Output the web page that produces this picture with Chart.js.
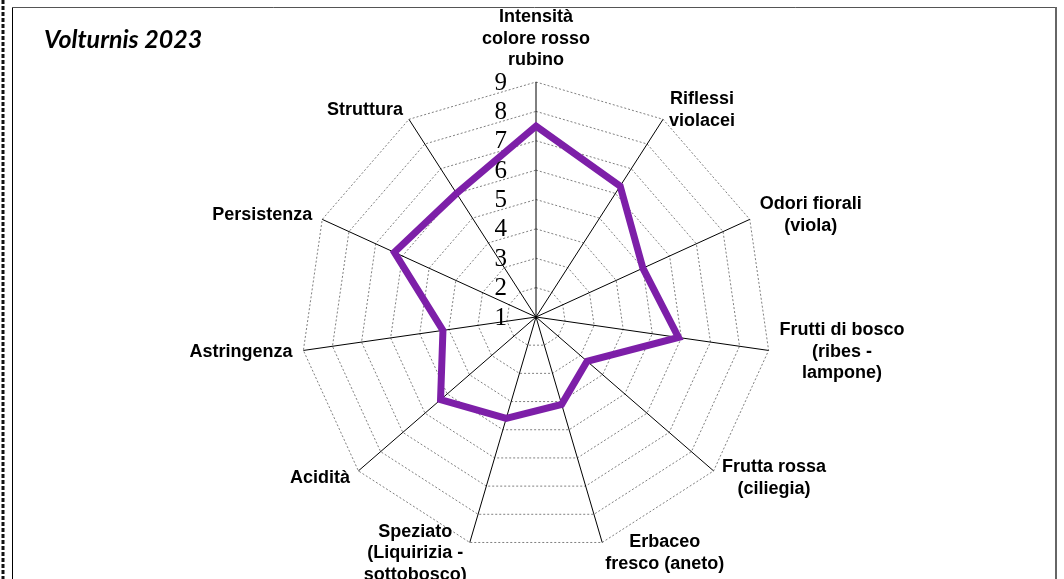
<!DOCTYPE html>
<html>
<head>
<meta charset="utf-8">
<script src="https://cdn.jsdelivr.net/npm/chart.js@4/dist/chart.umd.min.js"></script>
<style>
  html, body { margin: 0; padding: 0; background: #fff; overflow: hidden; }
  #wrap { width: 1064px; height: 579px; position: relative; }
</style>
</head>
<body>
<div id="wrap"><canvas id="c" width="1064" height="579"></canvas></div>
<script>
// ---- data ----
const chartTitle = 'Volturnis 2023';
const categories = [
  ['Intensità', 'colore rosso', 'rubino'],
  ['Riflessi', 'violacei'],
  ['Odori fiorali', '(viola)'],
  ['Frutti di bosco', '(ribes -', 'lampone)'],
  ['Frutta rossa', '(ciliegia)'],
  ['Erbaceo', 'fresco (aneto)'],
  ['Speziato', '(Liquirizia -', 'sottobosco)'],
  ['Acidità'],
  ['Astringenza'],
  ['Persistenza'],
  ['Struttura']
];
const seriesValues = [7.5, 6.3, 5.0, 5.9, 3.3, 4.1, 4.6, 5.3, 4.2, 6.3, 6.0];
const tickValues = [1, 2, 3, 4, 5, 6, 7, 8, 9];
const tickLabels = ['1', '2', '3', '4', '5', '6', '7', '8', '9'];

const decor = {
  id: 'decor',
  beforeDraw(chart) {
    const ctx = chart.ctx;
    ctx.save();
    ctx.fillStyle = '#fff';
    ctx.fillRect(0, 0, chart.width, chart.height);
    // outer dashed border (left)
    ctx.strokeStyle = '#111';
    ctx.lineWidth = 3;
    ctx.setLineDash([4, 2]);
    ctx.beginPath(); ctx.moveTo(3, 0); ctx.lineTo(3, chart.height); ctx.stroke();
    ctx.setLineDash([]);
    // plot frame
    ctx.strokeStyle = '#000';
    ctx.lineWidth = 1;
    ctx.beginPath(); ctx.moveTo(12.5, 7); ctx.lineTo(12.5, chart.height); ctx.stroke();
    ctx.strokeStyle = '#555';
    ctx.beginPath(); ctx.moveTo(12, 7.5); ctx.lineTo(1057, 7.5); ctx.stroke();
    ctx.strokeStyle = '#666';
    ctx.lineWidth = 2;
    ctx.beginPath(); ctx.moveTo(1056, 7); ctx.lineTo(1056, chart.height); ctx.stroke();
    // title
    ctx.fillStyle = '#000';
    ctx.font = 'italic bold 25px Lato, "Open Sans", sans-serif';
    ctx.textAlign = 'left';
    ctx.textBaseline = 'alphabetic';
    ctx.fillText(chartTitle, 44, 48);
    ctx.restore();
  },
  afterDraw(chart) {
    const ctx = chart.ctx;
    const scale = chart.scales.r;
    ctx.save();
    // tick labels
    ctx.fillStyle = '#000';
    ctx.font = '25px "Liberation Serif", "Times New Roman", serif';
    ctx.textAlign = 'right';
    ctx.textBaseline = 'middle';
    tickValues.forEach((v, k) => {
      const d = scale.getDistanceFromCenterForValue(v);
      ctx.fillText(tickLabels[k], scale.xCenter - 29, scale.yCenter - d + 1);
    });
    // point labels
    ctx.font = 'bold 18px "Liberation Sans", Arial, sans-serif';
    ctx.textAlign = 'center';
    ctx.textBaseline = 'middle';
    const lh = 21.5;
    const n = chart.data.labels.length;
    chart.data.labels.forEach((lines, i) => {
      const p = scale.getPointPosition(i, scale.drawingArea + 11);
      const ang = Math.round(i * 360 / n);
      const w = Math.max(...lines.map(t => ctx.measureText(t).width));
      const h = lines.length * lh;
      let cx, top;
      if (ang === 0) { cx = p.x; top = p.y - h; }
      else if (ang === 180) { cx = p.x; top = p.y; }
      else {
        cx = ang < 180 ? p.x + w / 2 : p.x - w / 2;
        top = p.y - h / 2;
      }
      lines.forEach((t, k) => ctx.fillText(t, cx, top + lh * (k + 0.5)));
    });
    ctx.restore();
  }
};

new Chart(document.getElementById('c'), {
  type: 'radar',
  data: {
    labels: categories,
    datasets: [{
      data: seriesValues,
      borderColor: '#7D1FA8',
      backgroundColor: 'rgba(0,0,0,0)',
      borderWidth: 7,
      fill: false,
      pointRadius: 0,
      pointHoverRadius: 0,
      tension: 0,
      borderJoinStyle: 'miter'
    }]
  },
  options: {
    responsive: false,
    animation: false,
    devicePixelRatio: 1,
    layout: { padding: { left: 100, right: 92, top: 82, bottom: 27 } },
    plugins: { legend: { display: false }, tooltip: { enabled: false }, title: { display: false } },
    scales: {
      r: {
        min: 1,
        max: 9,
        beginAtZero: false,
        ticks: { stepSize: 1, display: false },
        pointLabels: { display: false },
        angleLines: { display: true, color: '#000', lineWidth: 1 },
        grid: { color: '#808080', lineWidth: 1, circular: false, borderDash: [2, 2] },
        border: { dash: [2, 2] }
      }
    }
  },
  plugins: [decor]
});
</script>
</body>
</html>
